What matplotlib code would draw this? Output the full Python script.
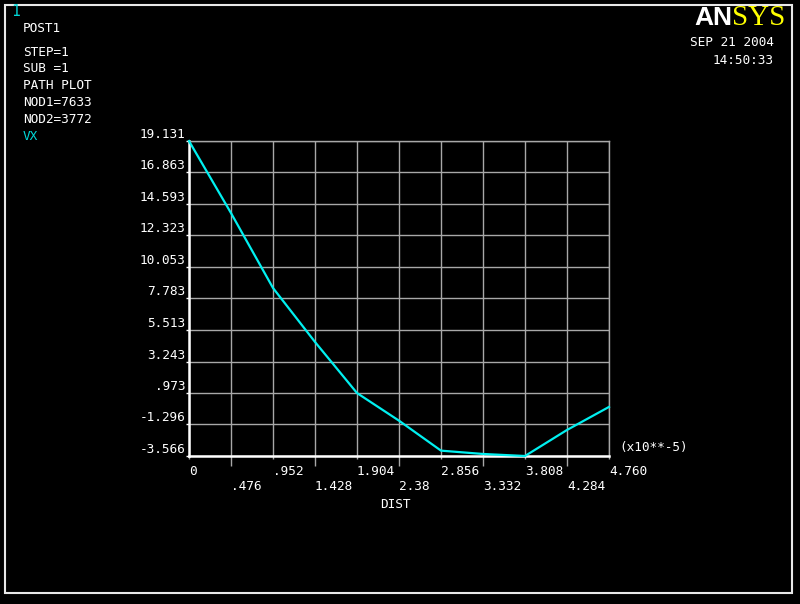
import matplotlib
matplotlib.use('Agg')
import matplotlib.pyplot as plt

# datos (DIST en x10**-5, VX)
dist = [0, .476, .952, 1.428, 1.904, 2.38, 2.856, 3.332, 3.808, 4.284, 4.760]
vx = [19.131, 13.94, 8.54, 4.65, 0.97, -1.02, -3.18, -3.42, -3.566, -1.69, -0.03]

x_ticks = [0, .476, .952, 1.428, 1.904, 2.38, 2.856, 3.332, 3.808, 4.284, 4.760]
x_labels = ['0', '.476', '.952', '1.428', '1.904', '2.38', '2.856', '3.332', '3.808', '4.284', '4.760']
y_ticks = [-3.566, -1.296, .973, 3.243, 5.513, 7.783, 10.053, 12.323, 14.593, 16.863, 19.131]
y_labels = ['-3.566', '-1.296', '.973', '3.243', '5.513', '7.783', '10.053', '12.323', '14.593', '16.863', '19.131']

info_lines = ['STEP=1', 'SUB =1', 'PATH PLOT', 'NOD1=7633', 'NOD2=3772']

W, H = 800, 604
MONO = 'DejaVu Sans Mono'
FS = 9.2


def fx(px):
    return px / W


def fy(py):
    return 1 - py / H


fig = plt.figure(figsize=(8, 6.04), dpi=100, facecolor='black')

# marco blanco
frame = plt.Rectangle((fx(5), fy(593)), fx(792) - fx(5), fy(5) - fy(593),
                      transform=fig.transFigure, fill=False, edgecolor='#e8e8e8', linewidth=1.5)
fig.patches.append(frame)

ax = fig.add_axes([fx(189), fy(456), fx(609) - fx(189), fy(141) - fy(456)])
ax.set_facecolor('black')
ax.plot(dist, vx, color='#00f0f0', linewidth=1.6, zorder=3, clip_on=False)
ax.set_xlim(x_ticks[0], x_ticks[-1])
ax.set_ylim(y_ticks[0], y_ticks[-1])

# ticks: pares como "major" (cortos), impares como "minor" (largos)
ax.set_xticks(x_ticks[::2])
ax.set_xticks(x_ticks[1::2], minor=True)
ax.set_yticks(y_ticks)
ax.set_xticklabels([])
ax.set_yticklabels([])
ax.tick_params(axis='x', which='major', length=2.5, color='#a8a8a8', width=1)
ax.tick_params(axis='x', which='minor', length=7, color='#a8a8a8', width=1)
ax.tick_params(axis='y', length=2, color='white', width=1)
ax.grid(True, which='both', color='#a8a8a8', linewidth=1)
ax.set_axisbelow(True)

for side in ['top', 'right']:
    ax.spines[side].set_color('#a8a8a8')
    ax.spines[side].set_linewidth(1)
for side in ['left', 'bottom']:
    ax.spines[side].set_color('white')
    ax.spines[side].set_linewidth(1.8)

xtr = ax.get_xaxis_transform()
for i, (t, lab) in enumerate(zip(x_ticks, x_labels)):
    yoff = -0.048 if i % 2 == 0 else -0.096
    ax.text(t, yoff, lab, transform=xtr, color='white', fontsize=FS, family=MONO,
            ha='left', va='center', clip_on=False)

ytr = ax.get_yaxis_transform()
for t, lab in zip(y_ticks, y_labels):
    ax.text(-0.008, t, lab, transform=ytr, color='white', fontsize=FS, family=MONO,
            ha='right', va='bottom', clip_on=False)

fig.text(fx(380), fy(505), 'DIST', color='white', fontsize=FS, family=MONO, va='center', ha='left')
fig.text(fx(619), fy(448), '(x10**-5)', color='white', fontsize=FS, family=MONO, va='center', ha='left')

# textos arriba a la izquierda
fig.text(fx(11), fy(12), '1', color='#00d8d8', fontsize=10.5, family=MONO, va='center', ha='left')
fig.text(fx(23), fy(28), 'POST1', color='white', fontsize=FS, family=MONO, va='center', ha='left')
for i, line in enumerate(info_lines):
    fig.text(fx(23), fy(52 + i * 16.8), line, color='white', fontsize=FS, family=MONO,
             va='center', ha='left')
fig.text(fx(23), fy(136), 'VX', color='#00d8d8', fontsize=FS, family=MONO, va='center', ha='left')

# fecha y hora
fig.text(fx(774), fy(43), 'SEP 21 2004', color='white', fontsize=FS, family=MONO, va='center', ha='right')
fig.text(fx(774), fy(60), '14:50:33', color='white', fontsize=FS, family=MONO, va='center', ha='right')

# logo
fig.text(fx(732), fy(18), 'AN', color='white', fontsize=19,
         family=['Liberation Sans Narrow', 'Liberation Sans'],
         weight='bold', va='center', ha='right')
fig.text(fx(732), fy(18), 'SYS', color='#ffff00', fontsize=21, family='Liberation Serif',
         va='center', ha='left')

fig.savefig('out.png', dpi=100, facecolor='black')
